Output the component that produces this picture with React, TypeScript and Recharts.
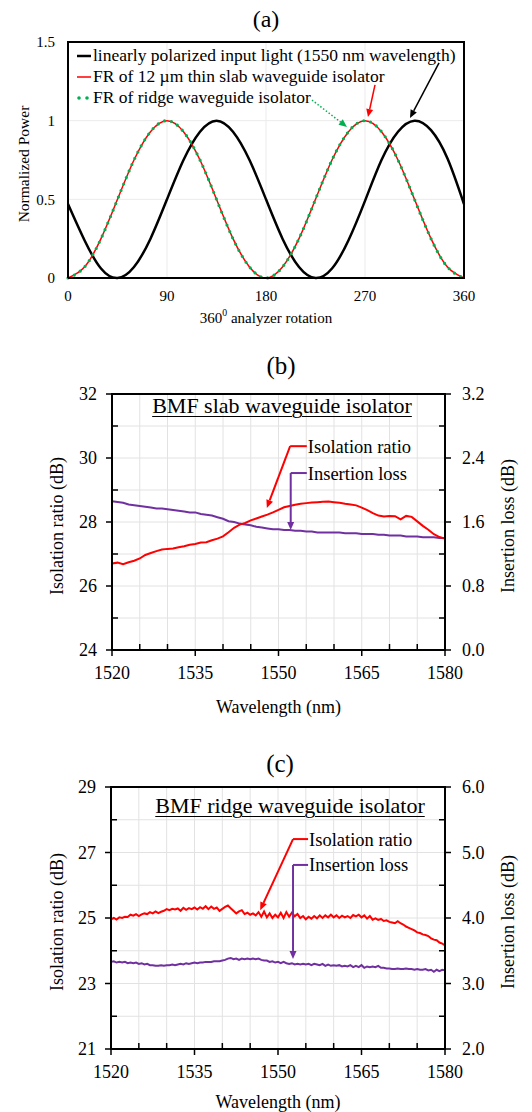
import React from "react";
import {
  LineChart,
  Line,
  XAxis,
  YAxis,
  CartesianGrid,
  ReferenceLine,
  ReferenceArea,
  Legend,
} from "recharts";

const SERIF = '"Liberation Serif", "Times New Roman", serif';
const RED = "#ff0000";
const PURPLE = "#7030a0";
const GREEN = "#00b050";

// ---- (a) normalized power vs analyzer rotation ----
const ANGLE = [0, 15, 30, 45, 60, 75, 90, 105, 120, 135, 150, 165, 180, 195, 210, 225, 240, 255, 270, 285, 300, 315, 330, 345, 360];
const INPUT_LIGHT = [0.47, 0.24, 0.06, 0, 0.07, 0.25, 0.5, 0.75, 0.93, 1, 0.93, 0.75, 0.5, 0.25, 0.07, 0, 0.06, 0.24, 0.49, 0.75, 0.93, 1, 0.94, 0.76, 0.47];
const SLAB_FR = [0, 0.07, 0.25, 0.5, 0.75, 0.93, 1, 0.93, 0.75, 0.5, 0.25, 0.07, 0, 0.07, 0.25, 0.5, 0.75, 0.93, 1, 0.93, 0.75, 0.5, 0.25, 0.07, 0];
const RIDGE_FR = [0, 0.07, 0.25, 0.5, 0.75, 0.93, 1, 0.93, 0.75, 0.5, 0.25, 0.07, 0, 0.07, 0.25, 0.5, 0.75, 0.93, 1, 0.93, 0.75, 0.5, 0.25, 0.07, 0];
const ANGLE_TICKS = [0, 90, 180, 270, 360];
const POWER_TICKS = [0, 0.5, 1, 1.5];
const LEGEND_ORDER = ["input", "slab", "ridge"];

// ---- (b) BMF slab waveguide isolator, 1 nm steps ----
const SLAB_WL = Array.from({ length: 61 }, (_, i) => 1520 + i);
const SLAB_ISOLATION = [
  26.70, 26.73, 26.68, 26.74, 26.79, 26.86, 26.97, 27.03, 27.09, 27.14,
  27.16, 27.17, 27.21, 27.24, 27.29, 27.31, 27.36, 27.37, 27.43, 27.48,
  27.55, 27.68, 27.82, 27.92, 27.97, 28.05, 28.11, 28.17, 28.23, 28.30,
  28.38, 28.46, 28.50, 28.54, 28.57, 28.59, 28.61, 28.62, 28.63, 28.64,
  28.62, 28.60, 28.57, 28.55, 28.52, 28.45, 28.37, 28.28, 28.20, 28.17,
  28.19, 28.18, 28.08, 28.19, 28.16, 28.02, 27.88, 27.76, 27.62, 27.53,
  27.48,
];
const SLAB_LOSS = [
  1.86, 1.85, 1.84, 1.82, 1.81, 1.80, 1.79, 1.78, 1.77, 1.77,
  1.76, 1.75, 1.74, 1.73, 1.72, 1.72, 1.70, 1.69, 1.68, 1.66,
  1.64, 1.61, 1.60, 1.58, 1.57, 1.56, 1.54, 1.53, 1.52, 1.51,
  1.51, 1.50, 1.50, 1.49, 1.49, 1.48, 1.48, 1.47, 1.47, 1.47,
  1.47, 1.47, 1.46, 1.46, 1.46, 1.45, 1.45, 1.45, 1.44, 1.44,
  1.43, 1.43, 1.43, 1.42, 1.42, 1.42, 1.41, 1.41, 1.41, 1.40,
  1.40,
];

// ---- (c) BMF ridge waveguide isolator, 0.5 nm steps ----
const RIDGE_WL = Array.from({ length: 121 }, (_, i) => 1520 + i * 0.5);
const RIDGE_ISOLATION = [
  24.96, 25.00, 24.95, 25.02, 25.00, 25.04, 25.03, 25.10, 25.07, 25.12,
  25.06, 25.11, 25.14, 25.12, 25.18, 25.14, 25.20, 25.15, 25.19, 25.22,
  25.27, 25.24, 25.28, 25.26, 25.29, 25.22, 25.31, 25.25, 25.30, 25.27,
  25.32, 25.26, 25.33, 25.28, 25.36, 25.27, 25.35, 25.28, 25.32, 25.22,
  25.28, 25.34, 25.38, 25.30, 25.22, 25.14, 25.20, 25.24, 25.12, 25.16,
  25.10, 25.14, 25.08, 25.18, 25.04, 25.20, 25.02, 25.14, 25.00, 25.10,
  25.02, 25.16, 25.00, 25.18, 25.04, 25.16, 25.05, 25.12, 25.00, 25.06,
  24.96, 25.04, 24.98, 25.06, 24.99, 25.08, 25.00, 25.08, 25.02, 25.10,
  25.02, 25.08, 25.00, 25.07, 25.02, 25.06, 25.00, 25.09, 25.05, 25.10,
  25.02, 25.08, 24.98, 25.06, 24.95, 24.99, 24.94, 24.97, 24.91, 24.93,
  24.88, 24.86, 24.84, 24.90, 24.84, 24.80, 24.74, 24.70, 24.66, 24.62,
  24.56, 24.54, 24.50, 24.48, 24.45, 24.38, 24.34, 24.32, 24.25, 24.22,
  24.16,
];
const RIDGE_LOSS = [
  3.33, 3.34, 3.32, 3.33, 3.32, 3.33, 3.31, 3.32, 3.31, 3.32,
  3.30, 3.31, 3.29, 3.30, 3.28, 3.28, 3.27, 3.27, 3.28, 3.27,
  3.28, 3.28, 3.29, 3.28, 3.29, 3.30, 3.29, 3.31, 3.30, 3.31,
  3.32, 3.31, 3.32, 3.32, 3.33, 3.33, 3.33, 3.34, 3.34, 3.34,
  3.35, 3.36, 3.38, 3.39, 3.37, 3.38, 3.36, 3.38, 3.37, 3.38,
  3.37, 3.38, 3.37, 3.38, 3.36, 3.35, 3.35, 3.33, 3.34, 3.32,
  3.33, 3.31, 3.33, 3.31, 3.30, 3.31, 3.29, 3.30, 3.29, 3.30,
  3.29, 3.30, 3.28, 3.30, 3.29, 3.28, 3.30, 3.27, 3.29, 3.27,
  3.28, 3.27, 3.28, 3.26, 3.27, 3.26, 3.28, 3.25, 3.27, 3.25,
  3.28, 3.24, 3.26, 3.25, 3.26, 3.25, 3.27, 3.24, 3.24, 3.23,
  3.23, 3.22, 3.22, 3.23, 3.22, 3.22, 3.23, 3.22, 3.22, 3.21,
  3.22, 3.21, 3.21, 3.22, 3.20, 3.21, 3.18, 3.21, 3.19, 3.21,
  3.20,
];

const WL_TICKS = [1520, 1525, 1530, 1535, 1540, 1545, 1550, 1555, 1560, 1565, 1570, 1575, 1580];
const SLAB_ISO_TICKS = [24, 25, 26, 27, 28, 29, 30, 31, 32];
const SLAB_LOSS_TICKS = [0, 0.4, 0.8, 1.2, 1.6, 2.0, 2.4, 2.8, 3.2];
const RIDGE_ISO_TICKS = [21, 22, 23, 24, 25, 26, 27, 28, 29];
const RIDGE_LOSS_TICKS = [2, 2.5, 3, 3.5, 4, 4.5, 5, 5.5, 6];

// annotation arrows (data coordinates, left axis)
const SLAB_ISO_ARROW = [{ x: 1555.1, y: 30.37 }, { x: 1552.1, y: 30.37 }, { x: 1547.9, y: 28.44 }];
const SLAB_LOSS_ARROW = [{ x: 1555.1, y: 29.53 }, { x: 1552.2, y: 29.53 }, { x: 1552.2, y: 27.75 }];
const RIDGE_ISO_ARROW = [{ x: 1555.4, y: 27.41 }, { x: 1552.7, y: 27.41 }, { x: 1546.8, y: 25.24 }];
const RIDGE_LOSS_ARROW = [{ x: 1555.4, y: 26.62 }, { x: 1552.7, y: 26.62 }, { x: 1552.7, y: 23.75 }];

function arrowShape(color: string, opts: { head?: boolean; text?: string; dash?: string; width?: number }) {
  return (p: any) => {
    const { x1, y1, x2, y2 } = p;
    const w = opts.width ?? 2;
    const ang = Math.atan2(y2 - y1, x2 - x1);
    const L = 8;
    const H = 3.5;
    const bx = x2 - L * Math.cos(ang);
    const by = y2 - L * Math.sin(ang);
    const pts = `${x2},${y2} ${bx - H * Math.sin(ang)},${by + H * Math.cos(ang)} ${bx + H * Math.sin(ang)},${by - H * Math.cos(ang)}`;
    return (
      <g>
        <line
          x1={x1}
          y1={y1}
          x2={opts.head ? bx : x2}
          y2={opts.head ? by : y2}
          stroke={color}
          strokeWidth={w}
          strokeDasharray={opts.dash}
        />
        {opts.head && <polygon points={pts} fill={color} />}
        {opts.text && (
          <text x={x1 + 1} y={y1} dy="0.35em" fontFamily={SERIF} fontSize={18.5} fill="#000">
            {opts.text}
          </text>
        )}
      </g>
    );
  };
}

const VTitle = ({ viewBox, caption, dx, dy, size }: any) => {
  const cx = viewBox.x + dx;
  const cy = viewBox.y + viewBox.height / 2 + dy;
  return (
    <text
      x={cx}
      y={cy}
      transform={`rotate(-90 ${cx} ${cy})`}
      textAnchor="middle"
      dominantBaseline="central"
      fontFamily={SERIF}
      fontSize={size}
      fill="#000"
    >
      {caption}
    </text>
  );
};

const HTitle = ({ viewBox, caption, dy, size, sup }: any) => {
  const cx = viewBox.x + viewBox.width / 2;
  const cy = viewBox.y + dy;
  return (
    <text x={cx} y={cy} textAnchor="middle" dominantBaseline="central" fontFamily={SERIF} fontSize={size} fill="#000">
      {sup ? (
        <>
          360
          <tspan fontSize={size * 0.65} dy={-6}>0</tspan>
          <tspan dy={6}> analyzer rotation</tspan>
        </>
      ) : (
        caption
      )}
    </text>
  );
};

const wlTick = (p: any) => {
  const { x, y, payload, index } = p;
  const axisY = y - 16;
  const major = index % 3 === 0;
  return (
    <g>
      <line x1={x} x2={x} y1={major ? axisY : axisY - 6} y2={major ? axisY + 6 : axisY} stroke="#000" strokeWidth={1.5} />
      {major && (
        <text x={x} y={y} dy="0.71em" textAnchor="middle" fontFamily={SERIF} fontSize={18} fill="#000">
          {payload.value}
        </text>
      )}
    </g>
  );
};

const leftTick = (p: any) => {
  const { x, y, payload, index } = p;
  const ax = x + 15;
  const major = index % 2 === 0;
  return (
    <g>
      <line x1={major ? ax - 6 : ax} x2={major ? ax : ax + 6} y1={y} y2={y} stroke="#000" strokeWidth={1.5} />
      {major && (
        <text x={x} y={y} dy="0.35em" textAnchor="end" fontFamily={SERIF} fontSize={18} fill="#000">
          {payload.value}
        </text>
      )}
    </g>
  );
};

const rightTick = (p: any) => {
  const { x, y, payload, index } = p;
  const ax = x - 17;
  const major = index % 2 === 0;
  return (
    <g>
      <line x1={major ? ax : ax - 6} x2={major ? ax + 6 : ax} y1={y} y2={y} stroke="#000" strokeWidth={1.5} />
      {major && (
        <text x={x} y={y} dy="0.35em" textAnchor="start" fontFamily={SERIF} fontSize={18} fill="#000">
          {Number(payload.value).toFixed(1)}
        </text>
      )}
    </g>
  );
};

const LegendA = ({ payload }: any) => {
  const items = [...(payload || [])].sort(
    (a: any, b: any) => LEGEND_ORDER.indexOf(a.dataKey) - LEGEND_ORDER.indexOf(b.dataKey)
  );
  return (
    <div style={{ fontFamily: SERIF, fontSize: 17.5, lineHeight: "21px", color: "#000" }}>
      {items.map((e: any) => (
        <div key={e.value} style={{ display: "flex", alignItems: "center", whiteSpace: "nowrap" }}>
          <svg width={16} height={21} style={{ marginRight: 1 }}>
            {e.dataKey === "ridge" ? (
              <>
                <circle cx={3} cy={11} r={1.8} fill={GREEN} />
                <circle cx={11} cy={11} r={1.8} fill={GREEN} />
              </>
            ) : (
              <line x1={1} x2={15} y1={11} y2={11} stroke={e.color} strokeWidth={e.dataKey === "input" ? 2.5 : 1.5} />
            )}
          </svg>
          <span>{e.value}</span>
        </div>
      ))}
    </div>
  );
};

function RotationChart() {
  const rows = ANGLE.map((a, i) => ({ angle: a, input: INPUT_LIGHT[i], slab: SLAB_FR[i], ridge: RIDGE_FR[i] }));
  return (
    <LineChart width={532} height={330} data={rows} margin={{ top: 42, right: 68, bottom: 12, left: 0 }}>
      <CartesianGrid stroke="#ebebeb" />
      <XAxis
        dataKey="angle"
        type="number"
        domain={[0, 360]}
        ticks={ANGLE_TICKS}
        interval={0}
        height={40}
        tickLine={false}
        tickSize={6}
        tickMargin={6}
        axisLine={{ stroke: "#000", strokeWidth: 2 }}
        tick={{ fill: "#000", fontSize: 15, fontFamily: SERIF }}
        label={<HTitle sup dy={40} size={15} />}
      />
      <YAxis
        type="number"
        domain={[0, 1.5]}
        ticks={POWER_TICKS}
        interval={0}
        width={68}
        tickLine={false}
        tickSize={6}
        tickMargin={7}
        axisLine={{ stroke: "#000", strokeWidth: 2 }}
        tick={{ fill: "#000", fontSize: 15, fontFamily: SERIF }}
        label={<VTitle caption="Normalized Power" dx={23} dy={4} size={15.5} />}
      />
      <ReferenceArea x1={0} x2={360} y1={0} y2={1.5} fill="none" stroke="#000" strokeWidth={2} />
      <Line
        dataKey="input"
        name="linearly polarized input light (1550 nm wavelength)"
        type="natural"
        stroke="#000"
        strokeWidth={2.5}
        dot={false}
        isAnimationActive={false}
      />
      <Line
        dataKey="slab"
        name="FR of 12 µm thin slab waveguide isolator"
        type="natural"
        stroke={RED}
        strokeWidth={1.5}
        dot={false}
        isAnimationActive={false}
      />
      <Line
        dataKey="ridge"
        name="FR of ridge waveguide isolator"
        type="natural"
        stroke={GREEN}
        strokeWidth={3.2}
        strokeDasharray="0 7"
        strokeLinecap="round"
        dot={false}
        isAnimationActive={false}
      />
      <ReferenceLine segment={[{ x: 337.3, y: 1.367 }, { x: 310.9, y: 1.017 }]} ifOverflow="visible" shape={arrowShape("#000", { head: true, width: 1.5 })} />
      <ReferenceLine segment={[{ x: 279.1, y: 1.227 }, { x: 272.7, y: 1.023 }]} ifOverflow="visible" shape={arrowShape(RED, { head: true, width: 1.5 })} />
      <ReferenceLine segment={[{ x: 221.8, y: 1.131 }, { x: 253.6, y: 0.96 }]} ifOverflow="visible" shape={arrowShape(GREEN, { head: true, width: 1.5, dash: "1.5 2" })} />
      <Legend
        layout="vertical"
        align="center"
        verticalAlign="middle"
        content={<LegendA />}
        wrapperStyle={{ top: 45, left: 76, width: 440 }}
      />
    </LineChart>
  );
}

type PanelProps = {
  height: number;
  plotTop: number;
  bottom: number;
  leftWidth: number;
  xTitleDy: number;
  wl: number[];
  iso: number[];
  loss: number[];
  isoDomain: [number, number];
  lossDomain: [number, number];
  isoTicks: number[];
  lossTicks: number[];
  isoArrow: { x: number; y: number }[];
  lossArrow: { x: number; y: number }[];
};

function IsolatorChart(props: PanelProps) {
  const rows = props.wl.map((w, i) => ({ wl: w, iso: props.iso[i], loss: props.loss[i] }));
  const [ia, ib, ic] = props.isoArrow;
  const [la, lb, lc] = props.lossArrow;
  return (
    <LineChart
      width={532}
      height={props.height}
      data={rows}
      margin={{ top: props.plotTop, right: 0, bottom: props.bottom, left: 0 }}
    >
      <CartesianGrid yAxisId="left" stroke="#e2e2e2" />
      <XAxis
        dataKey="wl"
        type="number"
        domain={[1520, 1580]}
        ticks={WL_TICKS}
        interval={0}
        height={60}
        tickLine={false}
        tickSize={6}
        tickMargin={10}
        axisLine={{ stroke: "#000", strokeWidth: 2 }}
        tick={wlTick}
        label={<HTitle caption="Wavelength (nm)" dy={props.xTitleDy} size={18} />}
      />
      <YAxis
        yAxisId="left"
        type="number"
        domain={props.isoDomain}
        ticks={props.isoTicks}
        interval={0}
        width={props.leftWidth}
        tickLine={false}
        tickSize={6}
        tickMargin={9}
        axisLine={{ stroke: "#000", strokeWidth: 2 }}
        tick={leftTick}
        label={<VTitle caption="Isolation ratio (dB)" dx={57} dy={4} size={18} />}
      />
      <YAxis
        yAxisId="right"
        orientation="right"
        type="number"
        domain={props.lossDomain}
        ticks={props.lossTicks}
        interval={0}
        width={87}
        tickLine={false}
        tickSize={6}
        tickMargin={11}
        axisLine={{ stroke: "#000", strokeWidth: 2 }}
        tick={rightTick}
        label={<VTitle caption="Insertion loss (dB)" dx={63} dy={4} size={18} />}
      />
      <ReferenceArea
        yAxisId="left"
        x1={1520}
        x2={1580}
        y1={props.isoDomain[0]}
        y2={props.isoDomain[1]}
        fill="none"
        stroke="#000"
        strokeWidth={2}
      />
      <Line yAxisId="right" dataKey="loss" name="Insertion loss" type="linear" stroke={PURPLE} strokeWidth={2} dot={false} isAnimationActive={false} />
      <Line yAxisId="left" dataKey="iso" name="Isolation ratio" type="linear" stroke={RED} strokeWidth={2} dot={false} isAnimationActive={false} />
      <ReferenceLine yAxisId="left" segment={[ia, ib]} ifOverflow="visible" shape={arrowShape(RED, { text: "Isolation ratio" })} />
      <ReferenceLine yAxisId="left" segment={[ib, ic]} ifOverflow="visible" shape={arrowShape(RED, { head: true })} />
      <ReferenceLine yAxisId="left" segment={[la, lb]} ifOverflow="visible" shape={arrowShape(PURPLE, { text: "Insertion loss" })} />
      <ReferenceLine yAxisId="left" segment={[lb, lc]} ifOverflow="visible" shape={arrowShape(PURPLE, { head: true })} />
    </LineChart>
  );
}

const abs = (top: number, left = 0): React.CSSProperties => ({ position: "absolute", top, left });

const panelLabel = (top: number, cx: number, size: number): React.CSSProperties => ({
  position: "absolute",
  top,
  left: cx - 50,
  width: 100,
  textAlign: "center",
  fontFamily: SERIF,
  fontSize: size,
  lineHeight: `${Math.round(size * 1.2)}px`,
  color: "#000",
});

const boxTitle = (top: number, cx: number): React.CSSProperties => ({
  position: "absolute",
  top,
  left: cx - 160,
  width: 320,
  textAlign: "center",
  fontFamily: SERIF,
  fontSize: 22,
  lineHeight: "26px",
  textDecoration: "underline",
  textDecorationThickness: "1px",
  textUnderlineOffset: "3px",
  color: "#000",
  whiteSpace: "nowrap",
});

export default function App() {
  return (
    <div style={{ position: "absolute", top: 0, left: 0, width: 532, height: 1112, background: "#fff" }}>
      <div style={abs(0)}>
        <RotationChart />
      </div>
      <div style={abs(330)}>
        <IsolatorChart
          height={390}
          plotTop={64}
          bottom={10}
          leftWidth={112}
          xTitleDy={57}
          wl={SLAB_WL}
          iso={SLAB_ISOLATION}
          loss={SLAB_LOSS}
          isoDomain={[24, 32]}
          lossDomain={[0, 3.2]}
          isoTicks={SLAB_ISO_TICKS}
          lossTicks={SLAB_LOSS_TICKS}
          isoArrow={SLAB_ISO_ARROW}
          lossArrow={SLAB_LOSS_ARROW}
        />
      </div>
      <div style={abs(720)}>
        <IsolatorChart
          height={392}
          plotTop={67}
          bottom={3}
          leftWidth={111}
          xTitleDy={53}
          wl={RIDGE_WL}
          iso={RIDGE_ISOLATION}
          loss={RIDGE_LOSS}
          isoDomain={[21, 29]}
          lossDomain={[2, 6]}
          isoTicks={RIDGE_ISO_TICKS}
          lossTicks={RIDGE_LOSS_TICKS}
          isoArrow={RIDGE_ISO_ARROW}
          lossArrow={RIDGE_LOSS_ARROW}
        />
      </div>
      <div style={panelLabel(5, 266, 24)}>(a)</div>
      <div style={panelLabel(351, 281, 25)}>(b)</div>
      <div style={panelLabel(749, 280, 25)}>(c)</div>
      <div style={boxTitle(393, 282)}>BMF slab waveguide isolator</div>
      <div style={boxTitle(793, 290)}>BMF ridge waveguide isolator</div>
    </div>
  );
}
